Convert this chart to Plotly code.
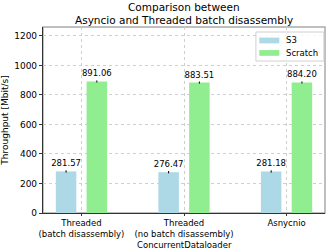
import plotly.graph_objects as go

categories = ["Threaded<br>(batch disassembly)", "Threaded<br>(no batch disassembly)", "Asnycnio"]
series_names = ["S3", "Scratch"]
s3_values = [281.57, 276.47, 281.18]
scratch_values = [891.06, 883.51, 884.20]
s3_err = [8, 8, 8]
scratch_err = [7, 7, 7]
y_ticks = [0, 200, 400, 600, 800, 1000, 1200]

FONT = "DejaVu Sans"
S3_COLOR = "#ADD8E6"
SCRATCH_COLOR = "#90EE90"
x = list(range(len(categories)))

fig = go.Figure()
fig.add_trace(go.Bar(
    x=x, y=s3_values, name=series_names[0], marker_color=S3_COLOR, marker_line_width=0,
    width=0.2, offset=-0.25,
    error_y=dict(type="data", array=s3_err, color="black", thickness=1, width=0),
    text=[f"{v:.2f}" for v in s3_values], textposition="outside", constraintext="none",
    textfont=dict(family=FONT, size=8.5, color="black"), cliponaxis=False,
))
fig.add_trace(go.Bar(
    x=x, y=scratch_values, name=series_names[1], marker_color=SCRATCH_COLOR, marker_line_width=0,
    width=0.2, offset=0.05,
    error_y=dict(type="data", array=scratch_err, color="black", thickness=1, width=0),
    text=[f"{v:.2f}" for v in scratch_values], textposition="outside", constraintext="none",
    textfont=dict(family=FONT, size=8.5, color="black"), cliponaxis=False,
))

# custom compact legend (matplotlib style)
legend_shapes = [
    dict(type="rect", xref="paper", yref="paper", x0=0.755, x1=0.996, y0=0.817, y1=0.973,
         line=dict(color="#d0d0d0", width=1), fillcolor="rgba(255,255,255,0.85)", layer="above"),
    dict(type="rect", xref="paper", yref="paper", x0=0.767, x1=0.838, y0=0.912, y1=0.943,
         line=dict(width=0), fillcolor=S3_COLOR, layer="above"),
    dict(type="rect", xref="paper", yref="paper", x0=0.767, x1=0.838, y0=0.845, y1=0.876,
         line=dict(width=0), fillcolor=SCRATCH_COLOR, layer="above"),
]
legend_texts = [
    dict(text=series_names[0], xref="paper", yref="paper", x=0.855, y=0.929,
         xanchor="left", yanchor="middle", showarrow=False,
         font=dict(family=FONT, size=8.5, color="black")),
    dict(text=series_names[1], xref="paper", yref="paper", x=0.855, y=0.862,
         xanchor="left", yanchor="middle", showarrow=False,
         font=dict(family=FONT, size=8.5, color="black")),
]

fig.update_layout(
    width=332, height=252,
    margin=dict(l=43, r=7, t=27, b=39),
    paper_bgcolor="white", plot_bgcolor="white",
    font=dict(family=FONT, size=9, color="black"),
    barmode="overlay",
    showlegend=False,
    xaxis=dict(range=[-0.375, 2.375], tickvals=x, ticktext=categories,
               showgrid=True, gridcolor="#cfcfcf", griddash="dot", gridwidth=1,
               showline=True, linecolor="#333333", linewidth=1.2,
               ticks="outside", ticklen=2, tickcolor="#333333",
               tickfont=dict(family=FONT, size=8.5),
               zeroline=False, automargin=False),
    yaxis=dict(range=[0, 1260], tickvals=y_ticks,
               showgrid=True, gridcolor="#cfcfcf", griddash="dot", gridwidth=1,
               showline=True, linecolor="#333333", linewidth=1.2,
               ticks="outside", ticklen=3, tickcolor="#333333",
               tickfont=dict(family=FONT, size=9),
               title=dict(text="Throughput [Mbit/s]", font=dict(family=FONT, size=9), standoff=4),
               zeroline=False, automargin=False),
    shapes=[dict(type="rect", xref="paper", yref="paper", x0=0, x1=1, y0=0, y1=1,
                 line=dict(color="#aaaaaa", width=1.5), layer="below")] + legend_shapes,
    annotations=[
        dict(text="Comparison between", xref="paper", yref="paper", x=0.5, y=1,
             xanchor="center", yanchor="bottom", yshift=12, showarrow=False,
             font=dict(family=FONT, size=10.5, color="black")),
        dict(text="Asyncio and Threaded batch disassembly", xref="paper", yref="paper",
             x=0.5, y=1, xanchor="center", yanchor="bottom", yshift=-1, showarrow=False,
             font=dict(family=FONT, size=10.5, color="black")),
        dict(text="ConcurrentDataloader", xref="paper", yref="paper", x=0.5, y=0,
             xanchor="center", yanchor="top", yshift=-25, showarrow=False,
             font=dict(family=FONT, size=8.5, color="black")),
    ] + legend_texts,
)

fig.write_html("out.html", config={"displayModeBar": False},
               post_script="document.body.style.margin='0';document.body.style.padding='0';")
